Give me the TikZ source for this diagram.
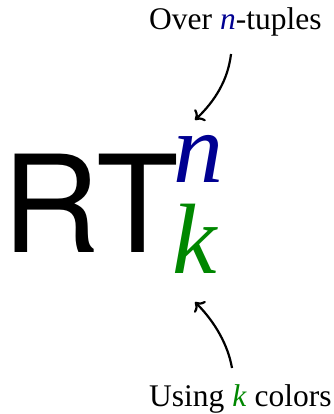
\documentclass[tikz,border=0pt]{standalone}
\usepackage{fontspec}
\setmainfont{Liberation Serif}
\newfontfamily\herosfont{TeX Gyre Heros}
\usetikzlibrary{arrows.meta}
\definecolor{nblue}{RGB}{0,0,145}
\definecolor{kgreen}{RGB}{0,135,0}
\tikzset{
  lbl/.style={inner sep=0pt, anchor=base west, font=\fontsize{31.5}{36}\selectfont},
  big/.style={inner sep=0pt, anchor=base west, font=\herosfont\fontsize{135}{140}\selectfont},
  idx/.style={inner sep=0pt, anchor=base west, font=\fontsize{100}{104}\selectfont\itshape},
  arr/.style={line width=2.2pt, -{To[length=8pt,width=16pt]}}
}
\begin{document}
\begin{tikzpicture}[x=1pt,y=-1pt]
\useasboundingbox (0,0) rectangle (333,414);
\node[lbl] (over) at (149,30) {Over \textcolor{nblue}{\textit{n}}-tuples};
\node[big] (rt) at (2,252) {RT};
\node[idx, text=nblue] (n) at (173,182) {n};
\node[idx, text=kgreen] (k) at (172,273) {k};
\node[lbl] (using) at (149,406) {Using \textcolor{kgreen}{\textit{k}} colors};
\coordinate (a1) at (231,54);
\coordinate (a2) at (195,120);
\coordinate (b1) at (232,368);
\coordinate (b2) at (195,302);
\draw[arr] (a1) .. controls (228,80) and (215,101) .. (a2);
\draw[arr] (b1) .. controls (228,345) and (215,322) .. (b2);
\end{tikzpicture}
\end{document}
